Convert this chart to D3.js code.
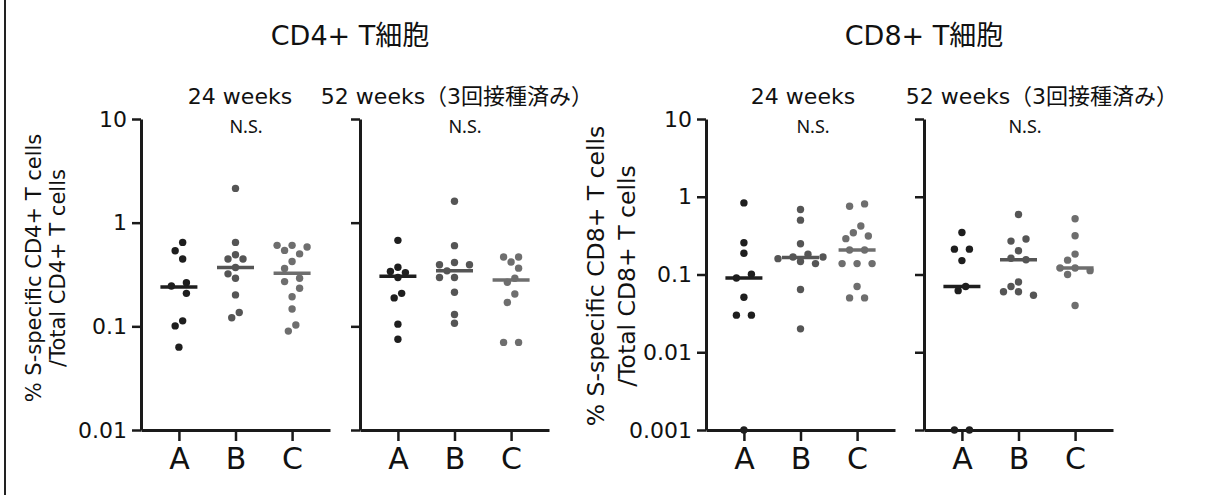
<!DOCTYPE html>
<html>
<head>
<meta charset="utf-8">
<script src="https://cdn.jsdelivr.net/npm/d3@7"></script>
<style>
  body { margin: 0; background: #fff; }
  svg { display: block; }
</style>
</head>
<body>
<div id="chart"></div>
<script>
// categories
const groups = ["A", "B", "C"]

// values, one list per group (A, B, C)
const cd4W24 = [
  [0.645, 0.536, 0.446, 0.264, 0.245, 0.208, 0.113, 0.101, 0.063],
  [2.14, 0.645, 0.491, 0.446, 0.446, 0.37, 0.321, 0.291, 0.201, 0.136, 0.121],
  [0.604, 0.604, 0.582, 0.54, 0.50, 0.422, 0.361, 0.291, 0.27, 0.233, 0.193, 0.147, 0.103, 0.09]
]
const cd4W52 = [
  [0.675, 0.372, 0.338, 0.33, 0.296, 0.208, 0.188, 0.105, 0.075],
  [1.61, 0.6, 0.413, 0.393, 0.393, 0.343, 0.296, 0.296, 0.213, 0.13, 0.107],
  [0.466, 0.466, 0.417, 0.364, 0.291, 0.266, 0.205, 0.17, 0.07, 0.07]
]
const cd8W24 = [
  [0.833, 0.256, 0.188, 0.101, 0.09, 0.051, 0.03, 0.03, 0.001],
  [0.686, 0.5, 0.249, 0.182, 0.168, 0.168, 0.16, 0.147, 0.138, 0.064, 0.02],
  [0.809, 0.756, 0.42, 0.344, 0.313, 0.289, 0.207, 0.207, 0.138, 0.138, 0.138, 0.07, 0.05, 0.05]
]
const cd8W52 = [
  [0.347, 0.212, 0.212, 0.151, 0.07, 0.062, 0.001, 0.001],
  [0.592, 0.286, 0.269, 0.202, 0.162, 0.155, 0.08, 0.07, 0.06, 0.06, 0.054],
  [0.521, 0.315, 0.183, 0.153, 0.121, 0.121, 0.112, 0.1, 0.04]
]

// median bars as drawn
const cd4W24Med = [0.24, 0.37, 0.325]
const cd4W52Med = [0.305, 0.343, 0.28]
const cd8W24Med = [0.09, 0.165, 0.207]
const cd8W52Med = [0.07, 0.155, 0.121]

// axis ticks
const cd4Ticks = [10, 1, 0.1, 0.01]
const cd4TickLabels = ["10", "1", "0.1", "0.01"]
const cd8Ticks = [10, 1, 0.1, 0.01, 0.001]
const cd8TickLabels = ["10", "1", "0.1", "0.01", "0.001"]

const titles = ["CD4+ T細胞", "CD8+ T細胞"]
const subtitles = ["24 weeks", "52 weeks（3回接種済み）"]

const W = 1210, H = 495
const colors = {A: "#1e1e1e", B: "#555555", C: "#6e6e6e"}
const axisColor = "#1a1a1a"
const plotTop = 119, plotBottom = 430, panelW = 189
const sansFont = "'DejaVu Sans', Verdana, sans-serif"
// latin glyphs wide like the original, kanji from Noto CJK
const mixFont = "'DejaVu Sans', 'Noto Sans CJK JP', sans-serif"

const svg = d3.select("#chart").append("svg")
  .attr("width", W).attr("height", H)
  .style("font-family", sansFont)

// left frame line
svg.append("line")
  .attr("x1", 5).attr("x2", 5).attr("y1", 0).attr("y2", H)
  .attr("stroke", "#222").attr("stroke-width", 2)

const panels = [
  {x: 141, data: cd4W24, med: cd4W24Med, ticks: cd4Ticks, labels: cd4TickLabels, domain: [0.01, 10], sub: 0, subX: 240, nsX: 246,
   ytitle: ["% S-specific CD4+ T cells", "/Total CD4+ T cells"], ytX: 33, ytGap: 24, ytY: 268, ytSize: 21},
  {x: 360, data: cd4W52, med: cd4W52Med, ticks: cd4Ticks, labels: null, domain: [0.01, 10], sub: 1, subX: 457, nsX: 465},
  {x: 706, data: cd8W24, med: cd8W24Med, ticks: cd8Ticks, labels: cd8TickLabels, domain: [0.001, 10], sub: 0, subX: 803, nsX: 813,
   ytitle: ["% S-specific CD8+ T cells", "/Total CD8+ T cells"], ytX: 596, ytGap: 31, ytY: 276, ytSize: 23.5},
  {x: 924, data: cd8W52, med: cd8W52Med, ticks: cd8Ticks, labels: null, domain: [0.001, 10], sub: 1, subX: 1042, nsX: 1025}
]

// simple swarm: keep y, nudge x in half-dot steps so dots do not overlap
function dodge(vals, y) {
  const step = 7.5, D = 8.5
  const pts = vals.map(v => ({v: v, y: y(v), dx: 0})).sort((a, b) => a.y - b.y)
  const placed = []
  for (const p of pts) {
    for (let k = 0; k < 30; k++) {
      const off = k === 0 ? 0 : (k % 2 ? -1 : 1) * Math.ceil(k / 2) * step
      if (placed.every(q => Math.hypot(q.dx - off, q.y - p.y) >= D)) { p.dx = off; break }
    }
    placed.push(p)
  }
  // centre each vertical chain of touching dots
  let start = 0
  for (let i = 1; i <= pts.length; i++) {
    if (i === pts.length || pts[i].y - pts[i - 1].y >= D) {
      const chain = pts.slice(start, i)
      const mid = (d3.min(chain, d => d.dx) + d3.max(chain, d => d.dx)) / 2
      chain.forEach(d => d.dx -= mid)
      start = i
    }
  }
  return pts
}

panels.forEach(p => {
  const g = svg.append("g").attr("transform", `translate(${p.x},0)`)
  const y = d3.scaleLog().domain(p.domain).range([plotBottom, plotTop])
  const x = d3.scalePoint().domain(groups).range([0, panelW]).padding(0.67)

  const yAxis = g.append("g")
    .call(d3.axisLeft(y).tickValues(p.ticks)
      .tickFormat((d, i) => p.labels ? p.labels[i] : "")
      .tickSize(9).tickSizeOuter(0).tickPadding(5))
  const xAxis = g.append("g").attr("transform", `translate(0,${plotBottom})`)
    .call(d3.axisBottom(x).tickSize(11).tickSizeOuter(0).tickPadding(7))

  ;[yAxis, xAxis].forEach(a => {
    a.select(".domain").attr("stroke", axisColor).attr("stroke-width", 3)
    a.selectAll(".tick line").attr("stroke", axisColor).attr("stroke-width", 2.5)
    a.selectAll("text").attr("fill", "#111").attr("font-family", sansFont)
  })
  yAxis.selectAll("text").attr("font-size", 22)
  xAxis.selectAll("text").attr("font-size", 30)

  // dots
  groups.forEach((grp, gi) => {
    const pts = dodge(p.data[gi], y)
    g.append("g").selectAll("circle")
      .data(pts)
      .join("circle")
      .attr("cx", d => x(grp) + d.dx)
      .attr("cy", d => d.y)
      .attr("r", 3.7)
      .attr("fill", colors[grp])
  })

  // median bars
  g.append("g").selectAll("line")
    .data(groups)
    .join("line")
    .attr("x1", d => x(d) - 18.5)
    .attr("x2", d => x(d) + 18.5)
    .attr("y1", (d, i) => y(p.med[i]))
    .attr("y2", (d, i) => y(p.med[i]))
    .attr("stroke", d => colors[d])
    .attr("stroke-width", 3.5)

  // N.S.
  svg.append("text")
    .attr("x", p.nsX).attr("y", 133)
    .attr("text-anchor", "middle")
    .attr("font-family", "'Noto Sans', sans-serif")
    .attr("font-size", 18)
    .attr("fill", "#111")
    .text("N.S.")

  // subtitle
  svg.append("text")
    .attr("x", p.subX).attr("y", 104)
    .attr("text-anchor", "middle")
    .attr("font-family", mixFont)
    .attr("font-size", 22)
    .attr("fill", "#111")
    .text(subtitles[p.sub])

  // y axis title
  if (p.ytitle) {
    p.ytitle.forEach((t, i) => {
      svg.append("text")
        .attr("transform", `translate(${p.ytX + i * p.ytGap + p.ytSize * 0.36},${p.ytY}) rotate(-90)`)
        .attr("text-anchor", "middle")
        .attr("font-size", p.ytSize)
        .attr("fill", "#111")
        .text(t)
    })
  }
})

// main titles
const titleX = [350, 924]
titles.forEach((t, i) => {
  svg.append("text")
    .attr("x", titleX[i]).attr("y", 45)
    .attr("text-anchor", "middle")
    .attr("font-family", mixFont)
    .attr("font-size", 27)
    .attr("fill", "#111")
    .text(t)
})
</script>
</body>
</html>
